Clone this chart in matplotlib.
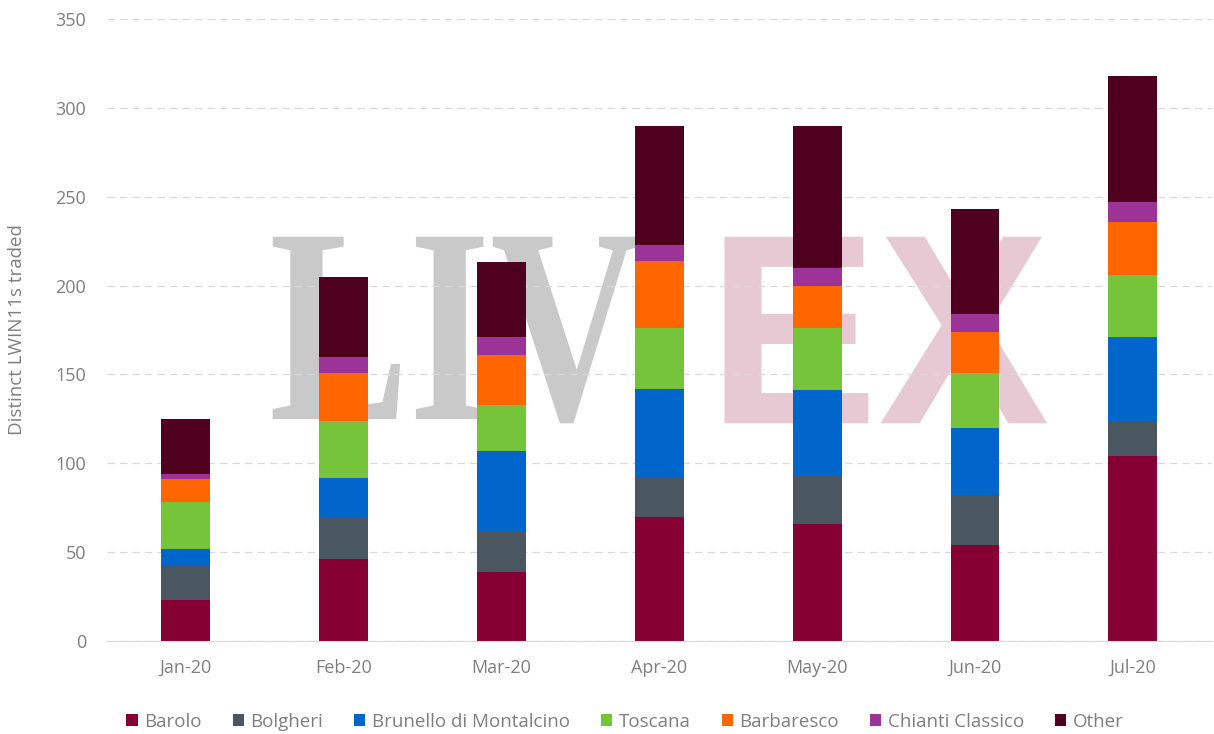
import numpy as np
import matplotlib
matplotlib.use('Agg')
import matplotlib.pyplot as plt
from matplotlib.textpath import TextPath
from matplotlib.patches import PathPatch
from matplotlib.font_manager import FontProperties
from matplotlib.transforms import Affine2D

months = ['Jan-20', 'Feb-20', 'Mar-20', 'Apr-20', 'May-20', 'Jun-20', 'Jul-20']

barolo     = [23, 46, 39, 70, 66, 54, 104]
bolgheri   = [19, 23, 23, 22, 27, 28, 20]
brunello   = [10, 23, 45, 50, 48, 38, 47]
toscana    = [26, 32, 26, 34, 35, 31, 35]
barbaresco = [13, 27, 28, 38, 24, 23, 30]
chianti    = [3, 9, 10, 9, 10, 10, 11]
other      = [31, 45, 42, 67, 80, 59, 71]

series_names = ['Barolo', 'Bolgheri', 'Brunello di Montalcino', 'Toscana',
                'Barbaresco', 'Chianti Classico', 'Other']
series_vals = [barolo, bolgheri, brunello, toscana, barbaresco, chianti, other]
colors = ['#870033', '#4b5760', '#0066cc', '#76c43a', '#ff6600', '#9c3398', '#4f001e']

plt.rcParams['font.family'] = ['Open Sans', 'DejaVu Sans']
grey = '#7f7f7f'

fig = plt.figure(figsize=(12.14, 7.34), dpi=100)
ax = fig.add_axes([0.0881, 0.1267, 0.910, 0.8474])

x = np.arange(len(months))
bottom = np.zeros(len(months))
for name, vals, c in zip(series_names, series_vals, colors):
    ax.bar(x, vals, 0.31, bottom=bottom, color=c, label=name, zorder=3)
    bottom += np.array(vals)

# watermark, squeezed into place
def watermark(txt, fam, weight, col, x0, x1, y0, y1):
    tp = TextPath((0, 0), txt, size=1, prop=FontProperties(family=fam, weight=weight))
    bb = tp.get_extents()
    tr = Affine2D().translate(-bb.x0, -bb.y0).scale((x1-x0)/bb.width, (y1-y0)/bb.height).translate(x0, y0)
    ax.add_patch(PathPatch(tr.transform_path(tp), facecolor=col, edgecolor='none',
                           transform=ax.transAxes, zorder=0.5))

watermark('LIV', 'Liberation Serif', 'bold', '#c9c9c9', 0.150, 0.482, 0.350, 0.650)
watermark('EX', 'Liberation Sans', 'bold', '#e7c9d4', 0.559, 0.851, 0.350, 0.650)

ax.set_xlim(-0.5, 6.5)
ax.set_ylim(0, 350)
ax.set_yticks(np.arange(0, 351, 50))
ax.set_xticks(x)
ax.set_xticklabels(months)
ax.grid(axis='y', color='#d9d9d9', linestyle=(0, (6, 4)), linewidth=0.9, zorder=1)
ax.set_axisbelow(False)
for s in ['top', 'right', 'left']:
    ax.spines[s].set_visible(False)
ax.spines['bottom'].set_color('#d9d9d9')
ax.spines['bottom'].set_zorder(4)
ax.tick_params(axis='both', length=0, labelsize=13, labelcolor=grey)
ax.tick_params(axis='y', pad=15)
ax.tick_params(axis='x', pad=13)
ax.set_ylabel('Distinct LWIN11s traded', fontsize=13.5, color=grey, labelpad=21)

ax.legend(loc='center', bbox_to_anchor=(0.469, -0.130), ncol=7, frameon=False,
          fontsize=13.5, labelcolor=grey, handlelength=0.6, handleheight=0.6,
          handletextpad=0.35, columnspacing=1.65)

fig.savefig('out.png', dpi=100)
